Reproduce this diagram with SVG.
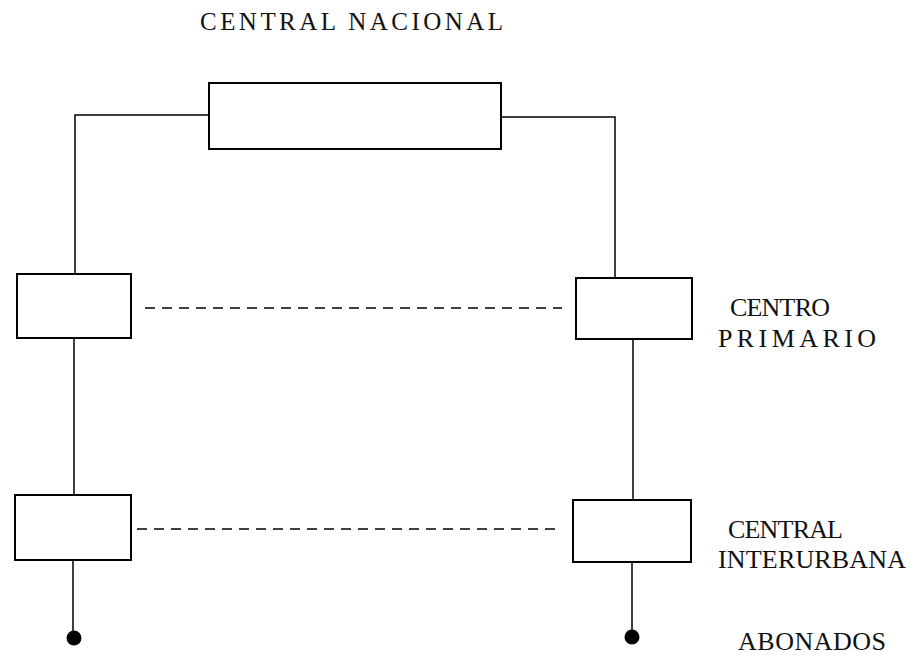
<svg xmlns="http://www.w3.org/2000/svg" width="918" height="671" viewBox="0 0 918 671">
<style>
.box{fill:none;stroke:#000;stroke-width:2}
.ln{fill:none;stroke:#000;stroke-width:1.5}
.dash{fill:none;stroke:#000;stroke-width:1.3;stroke-dasharray:10,7}
.lbl{font-family:"Liberation Serif","Times New Roman",serif;font-size:26px;fill:#111}
.ttl{font-family:"Liberation Serif","Times New Roman",serif;font-size:25px;fill:#111}
.term{fill:#000}
</style>
<rect width="918" height="671" fill="#fff"/>
<g id="connectors">
<polyline class="ln" points="209,115 75,115 75,274"/>
<polyline class="ln" points="501,117 615,117 615,278"/>
<line class="ln" x1="74" y1="338" x2="74" y2="495"/>
<line class="ln" x1="633" y1="339" x2="633" y2="500"/>
<line class="ln" x1="73" y1="560" x2="73" y2="632"/>
<line class="ln" x1="632" y1="562" x2="632" y2="631"/>
<line class="dash" x1="145" y1="308" x2="562" y2="308"/>
<line class="dash" x1="137" y1="529" x2="562" y2="529"/>
</g>
<g id="central-nacional">
<rect class="box" x="209" y="83" width="292" height="66"/>
<text class="ttl" x="200" y="30" textLength="303" lengthAdjust="spacing">CENTRAL NACIONAL</text>
</g>
<g id="primario-left"><rect class="box" x="17" y="274" width="114" height="64"/></g>
<g id="primario-right"><rect class="box" x="576" y="278" width="116" height="61"/></g>
<g id="interurbana-left"><rect class="box" x="15" y="495" width="116" height="65"/></g>
<g id="interurbana-right"><rect class="box" x="573" y="500" width="118" height="62"/></g>
<g id="abonado-left"><circle class="term" cx="74" cy="638" r="7.5"/></g>
<g id="abonado-right"><circle class="term" cx="632" cy="637" r="7.5"/></g>
<g id="labels">
<text class="lbl" x="730" y="316" textLength="100" lengthAdjust="spacing">CENTRO</text>
<text class="lbl" x="718" y="347" textLength="158" lengthAdjust="spacing">PRIMARIO</text>
<text class="lbl" x="728" y="538" textLength="115" lengthAdjust="spacing">CENTRAL</text>
<text class="lbl" x="718" y="568" textLength="188" lengthAdjust="spacing">INTERURBANA</text>
<text class="lbl" x="738" y="650" textLength="148" lengthAdjust="spacing">ABONADOS</text>
</g>
</svg>
